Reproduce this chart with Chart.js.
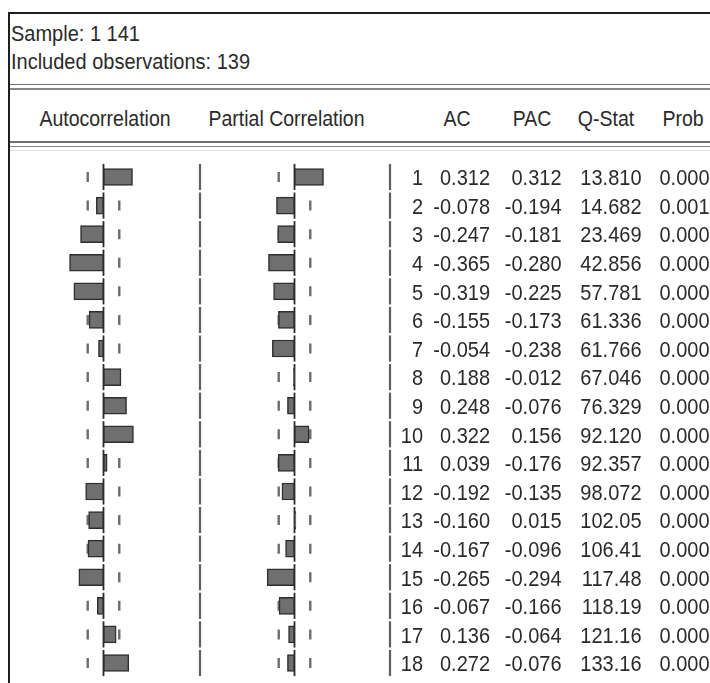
<!DOCTYPE html>
<html>
<head>
<meta charset="utf-8">
<title>Correlogram</title>
<script src="https://cdn.jsdelivr.net/npm/chart.js@4"></script>
<style>
  html, body { margin: 0; padding: 0; background: #fff; }
  #frame {
    position: relative; width: 710px; height: 683px; overflow: hidden;
    font-family: "Liberation Sans", Arial, sans-serif; color: #2a2a2a;
  }
  #plot { position: absolute; left: 0; top: 0; width: 710px; height: 683px; }
  .rule { position: absolute; }
  .txt {
    position: absolute; white-space: nowrap; line-height: 20px;
    transform-origin: 0 17px;
  }
  .head {
    position: absolute; white-space: nowrap; line-height: 19.5px; font-size: 19.5px;
    transform-origin: 50% 16.5px;
  }
</style>
</head>
<body>
<div id="frame">
  <!-- outer frame -->
  <div class="rule" style="left:8px;top:12px;width:2px;bottom:0;background:#1e1e1e"></div>
  <div class="rule" style="left:8px;top:12px;right:0;height:2px;background:#1e1e1e"></div>
  <!-- double rules around the column header -->
  <div class="rule" style="left:10px;right:0;top:83.6px;height:1.5px;background:#707070"></div>
  <div class="rule" style="left:10px;right:0;top:88.2px;height:1.5px;background:#858585"></div>
  <div class="rule" style="left:10px;right:0;top:141px;height:1.5px;background:#707070"></div>
  <div class="rule" style="left:10px;right:0;top:145.6px;height:1.5px;background:#858585"></div>
  <div class="rule" style="left:10px;right:0;top:149.5px;height:1px;background:#e2e2e2"></div>

  <div class="txt" id="sampleLine" style="left:11px;top:24px;font-size:20px"></div>
  <div class="txt" id="obsLine" style="left:11px;top:51.5px;font-size:20px"></div>
  <div id="heads"></div>

  <div id="plot"><canvas id="chart"></canvas></div>
</div>

<script>
// ---- correlogram values ----
const lags = ['1','2','3','4','5','6','7','8','9','10','11','12','13','14','15','16','17','18'];
const acValues  = [0.312, -0.078, -0.247, -0.365, -0.319, -0.155, -0.054, 0.188, 0.248,
                   0.322, 0.039, -0.192, -0.160, -0.167, -0.265, -0.067, 0.136, 0.272];
const pacValues = [0.312, -0.194, -0.181, -0.280, -0.225, -0.173, -0.238, -0.012, -0.076,
                   0.156, -0.176, -0.135, 0.015, -0.096, -0.294, -0.166, -0.064, -0.076];
const qStat     = [13.810, 14.682, 23.469, 42.856, 57.781, 61.336, 61.766, 67.046, 76.329,
                   92.120, 92.357, 98.072, 102.05, 106.41, 117.48, 118.19, 121.16, 133.16];
const probValues = [0.000, 0.001, 0.000, 0.000, 0.000, 0.000, 0.000, 0.000, 0.000,
                    0.000, 0.000, 0.000, 0.000, 0.000, 0.000, 0.000, 0.000, 0.000];
const sampleRange = '1 141';
const nObs = 139;
const columnHeads = ['Autocorrelation', 'Partial Correlation', 'AC', 'PAC', 'Q-Stat', 'Prob'];

// approximate 95% band for the bars
const band = 2 / Math.sqrt(nObs);

// ---- layout ----
const WIDTH = 710;
const PX_PER_UNIT = 93;
const ACF_ZERO = 103.5;
const PACF_ZERO = 294.5;
const SEPARATOR_X = [200, 390];
const HEAD_CENTERS = [105, 286.5, 457, 532, 606, 683];
const HEAD_TOP = 110;
const COL_RIGHT = [423, 490, 561.5, 641.5, 709.5];
const TEXT_STRETCH = 1.12;
const TEXT_FONT = '20px "Liberation Sans", Arial, sans-serif';
const TEXT_COLOR = '#2a2a2a';

// header text
document.getElementById('sampleLine').textContent = 'Sample: ' + sampleRange;
document.getElementById('obsLine').textContent = 'Included observations: ' + nObs;
['sampleLine', 'obsLine'].forEach(id => {
  document.getElementById(id).style.transform = 'scaleY(' + TEXT_STRETCH + ')';
});
const headsBox = document.getElementById('heads');
columnHeads.forEach((h, i) => {
  const d = document.createElement('div');
  d.className = 'head';
  d.textContent = h;
  d.style.top = HEAD_TOP + 'px';
  d.style.left = HEAD_CENTERS[i] + 'px';
  d.style.transform = 'translateX(-50%) scaleY(' + (TEXT_STRETCH + 0.03) + ')';
  headsBox.appendChild(d);
});

const fmtQ = v => (v >= 100 ? v.toFixed(2) : v.toFixed(3));

// vertical rules drawn one segment per row, plus the numeric columns
const correlogramTable = {
  id: 'correlogramTable',
  beforeDatasetsDraw(chart) {
    const { ctx, scales } = chart;
    const y = scales.y;
    const half = (y.getPixelForValue(1) - y.getPixelForValue(0)) / 2;
    const segs = [
      { x: SEPARATOR_X[0], color: '#5e5e5e', w: 2.2 },
      { x: SEPARATOR_X[1], color: '#5e5e5e', w: 2.2 },
      { x: scales.xAcf.getPixelForValue(0), color: '#2a2a2a', w: 1.8 },
      { x: scales.xPacf.getPixelForValue(0), color: '#2a2a2a', w: 1.8 }
    ];
    ctx.save();
    segs.forEach(s => {
      ctx.strokeStyle = s.color;
      ctx.lineWidth = s.w;
      lags.forEach((_, i) => {
        const yc = y.getPixelForValue(i);
        ctx.beginPath();
        ctx.moveTo(s.x, yc - half + 1.2);
        ctx.lineTo(s.x, yc + half - 1.2);
        ctx.stroke();
      });
    });
    ctx.restore();
  },
  afterDatasetsDraw(chart) {
    const { ctx, scales } = chart;
    const y = scales.y;
    ctx.save();
    ctx.font = TEXT_FONT;
    ctx.fillStyle = TEXT_COLOR;
    ctx.textAlign = 'right';
    ctx.textBaseline = 'alphabetic';
    lags.forEach((lag, i) => {
      const base = y.getPixelForValue(i) + 8.3;
      const cells = [lag, acValues[i].toFixed(3), pacValues[i].toFixed(3),
                     fmtQ(qStat[i]), probValues[i].toFixed(3)];
      cells.forEach((c, k) => {
        ctx.save();
        ctx.translate(COL_RIGHT[k], base);
        ctx.scale(1, TEXT_STRETCH);
        ctx.fillText(c, 0, 0);
        ctx.restore();
      });
    });
    ctx.restore();
  }
};

const bandMarks = sign => lags.map(l => ({ x: sign * band, y: l }));

const barStyle = {
  backgroundColor: '#6f6f6f',
  borderColor: '#2e2e2e',
  borderWidth: 1.5,
  borderSkipped: false,
  barThickness: 17,
  grouped: false
};
const markStyle = {
  pointStyle: 'line',
  rotation: 90,
  pointRadius: 5,
  pointHoverRadius: 5,
  pointBorderColor: '#6c6c6c',
  pointBorderWidth: 2.4,
  showLine: false
};

new Chart(document.getElementById('chart'), {
  type: 'bar',
  data: {
    labels: lags,
    datasets: [
      Object.assign({ label: 'Autocorrelation', data: acValues, xAxisID: 'xAcf', yAxisID: 'y' }, barStyle),
      Object.assign({ label: 'Partial Correlation', data: pacValues, xAxisID: 'xPacf', yAxisID: 'y' }, barStyle),
      Object.assign({ type: 'scatter', label: 'AC band', indexAxis: 'y',
        data: bandMarks(1).concat(bandMarks(-1)), xAxisID: 'xAcf', yAxisID: 'y' }, markStyle),
      Object.assign({ type: 'scatter', label: 'PAC band', indexAxis: 'y',
        data: bandMarks(1).concat(bandMarks(-1)), xAxisID: 'xPacf', yAxisID: 'y' }, markStyle)
    ]
  },
  options: {
    indexAxis: 'y',
    responsive: true,
    maintainAspectRatio: false,
    animation: false,
    events: [],
    layout: { autoPadding: false, padding: { top: 162.7, bottom: 5.7, left: 0, right: 0 } },
    plugins: { legend: { display: false }, tooltip: { enabled: false } },
    scales: {
      y: { type: 'category', labels: lags, offset: true, display: false },
      xAcf: { type: 'linear', axis: 'x', display: false,
        min: -ACF_ZERO / PX_PER_UNIT, max: (WIDTH - ACF_ZERO) / PX_PER_UNIT },
      xPacf: { type: 'linear', axis: 'x', display: false,
        min: -PACF_ZERO / PX_PER_UNIT, max: (WIDTH - PACF_ZERO) / PX_PER_UNIT }
    }
  },
  plugins: [correlogramTable]
});
</script>
</body>
</html>
